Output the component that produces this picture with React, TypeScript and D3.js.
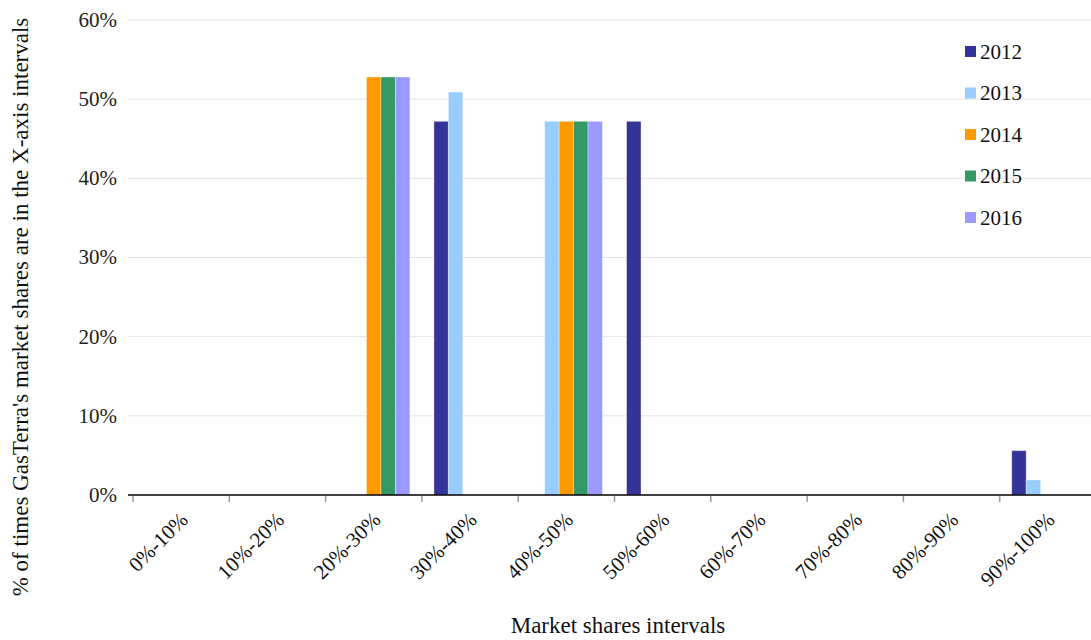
import React from "react";
import * as d3 from "d3";

const categories = ["0%-10%", "10%-20%", "20%-30%", "30%-40%", "40%-50%", "50%-60%", "60%-70%", "70%-80%", "80%-90%", "90%-100%"];
const years = ["2012", "2013", "2014", "2015", "2016"];
const colors = ["#333399", "#99ccff", "#ff9900", "#339966", "#9999ff"];
const v2012 = [0, 0, 0, 47.2, 0, 47.2, 0, 0, 0, 5.6];
const v2013 = [0, 0, 0, 50.9, 47.2, 0, 0, 0, 0, 1.9];
const v2014 = [0, 0, 52.8, 0, 47.2, 0, 0, 0, 0, 0];
const v2015 = [0, 0, 52.8, 0, 47.2, 0, 0, 0, 0, 0];
const v2016 = [0, 0, 52.8, 0, 47.2, 0, 0, 0, 0, 0];
const series = [v2012, v2013, v2014, v2015, v2016];
const yTicks = [0, 10, 20, 30, 40, 50, 60];

const W = 1091, H = 640;
const TS = { fontFamily: "Liberation Serif" };

export default function App() {
  const x0 = d3.scaleBand<string>().domain(categories).range([133, 1096]).paddingInner(0).paddingOuter(0);
  const bw = x0.bandwidth();
  const x1 = d3.scaleBand<string>().domain(years).range([bw * 0.125, bw * 0.875]).padding(0);
  const y = d3.scaleLinear().domain([0, 60]).range([495, 20]);

  return (
    <div style={{ position: "absolute", left: 0, top: 0 }}>
      <svg width={W} height={H} style={{ display: "block" }}>
        <rect x={0} y={0} width={W} height={H} fill="#fff" />
        {yTicks.map((t) => (
          <g key={t}>
            {t > 0 && <line x1={128} x2={W} y1={y(t)} y2={y(t)} stroke="#e4e4e4" strokeWidth={1} />}
            <text x={117} y={y(t)} dy="0.33em" textAnchor="end" fontSize={21} fill="#222" style={TS}>{t}%</text>
          </g>
        ))}
        {series.map((vals, si) =>
          vals.map((v, ci) =>
            v > 0 ? (
              <rect
                key={`${si}-${ci}`}
                x={(x0(categories[ci]) as number) + (x1(years[si]) as number)}
                y={y(v)}
                width={x1.bandwidth()}
                height={y(0) - y(v)}
                fill={colors[si]}
                stroke="#ffffff"
                strokeOpacity={0.35}
                strokeWidth={1}
              />
            ) : null
          )
        )}
        <line x1={128} x2={W} y1={y(0)} y2={y(0)} stroke="#000" strokeWidth={1.5} />
        {categories.map((c) => (
          <line key={c} x1={x0(c) as number} x2={x0(c) as number} y1={y(0) + 1} y2={y(0) + 7} stroke="#999" strokeWidth={1.5} />
        ))}
        {categories.map((c) => {
          const cx = (x0(c) as number) + bw / 2 + 8;
          const cy = 521;
          return (
            <text key={c} x={cx} y={cy} textAnchor="end" fontSize={21} fill="#111" style={TS} transform={`rotate(-45 ${cx} ${cy})`}>{c}</text>
          );
        })}
        <text x={618} y={633} textAnchor="middle" fontSize={23} fill="#111" style={TS}>Market shares intervals</text>
        <text x={0} y={0} transform={`translate(28 307) rotate(-90)`} textAnchor="middle" fontSize={23} fill="#111" style={TS}>% of times GasTerra's market shares are in the X-axis intervals</text>
        {years.map((yr, i) => (
          <g key={yr} transform={`translate(965 ${52 + i * 41.5})`}>
            <rect x={0} y={-6} width={11} height={11} fill={colors[i]} />
            <text x={15} y={0} dy="0.33em" fontSize={21} fill="#111" style={TS}>{yr}</text>
          </g>
        ))}
      </svg>
    </div>
  );
}
